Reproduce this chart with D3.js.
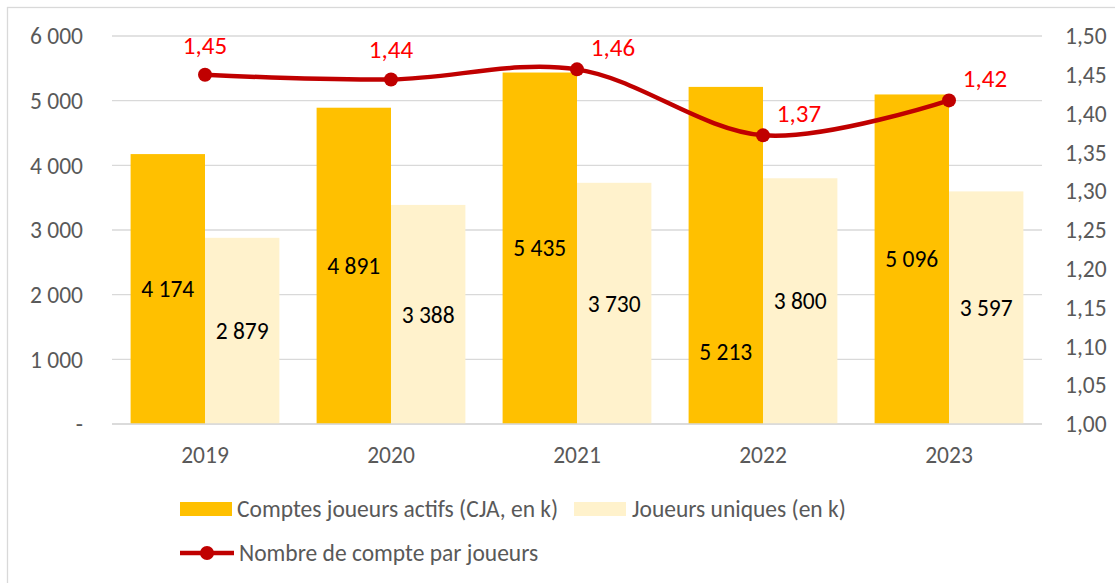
<!DOCTYPE html>
<html lang="fr">
<head>
<meta charset="UTF-8">
<title>Comptes joueurs</title>
<style>
  body { margin: 0; background: #fff; }
  svg text { font-family: Carlito, Calibri, Lato, sans-serif; }
</style>
<script src="https://d3js.org/d3.v7.min.js"></script>
</head>
<body>
<svg id="chart" width="1115" height="583"></svg>
<script>
// data
var years = ["2019", "2020", "2021", "2022", "2023"];
var cja = [4174, 4891, 5435, 5213, 5096];        // Comptes joueurs actifs (en k)
var uniques = [2879, 3388, 3730, 3800, 3597];    // Joueurs uniques (en k)
var ratio = [1.45, 1.444, 1.457, 1.372, 1.417];  // Nombre de compte par joueurs
var leftTicks = [0, 1000, 2000, 3000, 4000, 5000, 6000];
var rightTicks = [1.00, 1.05, 1.10, 1.15, 1.20, 1.25, 1.30, 1.35, 1.40, 1.45, 1.50];

var svg = d3.select("#chart");
var plotLeft = 112, plotRight = 1042, plotTop = 36, plotBottom = 424;
var fontSize = 23.5;

var fmtThousands = function (v) {
    if (v === 0) return "-";
    return d3.format(",")(v).replace(/,/g, " ");
};
var fmtComma = function (v) { return d3.format(".2f")(v).replace(".", ","); };

// chart border (Excel chart area)
svg.append("rect")
    .attr("x", 7.5).attr("y", 7.5)
    .attr("width", 1130).attr("height", 600)
    .attr("fill", "none").attr("stroke", "#d9d9d9").attr("stroke-width", 1.3);

var x = d3.scaleBand().domain(years).range([plotLeft, plotRight]);
var y = d3.scaleLinear().domain([0, 6000]).range([plotBottom, plotTop]);
var y2 = d3.scaleLinear().domain([1, 1.5]).range([plotBottom, plotTop]);

// gridlines
svg.append("g").selectAll("line")
    .data(leftTicks)
    .enter().append("line")
    .attr("x1", plotLeft).attr("x2", plotRight)
    .attr("y1", function (d) { return y(d); })
    .attr("y2", function (d) { return y(d); })
    .attr("stroke", "#d9d9d9").attr("stroke-width", 1.3);

// left axis labels
svg.append("g").selectAll("text")
    .data(leftTicks)
    .enter().append("text")
    .attr("x", 83)
    .attr("y", function (d) { return y(d); })
    .attr("dy", "0.35em")
    .attr("text-anchor", "end")
    .attr("font-size", fontSize)
    .attr("fill", "#595959")
    .text(fmtThousands);

// right axis labels
svg.append("g").selectAll("text")
    .data(rightTicks)
    .enter().append("text")
    .attr("x", 1065)
    .attr("y", function (d) { return y2(d); })
    .attr("dy", "0.35em")
    .attr("text-anchor", "start")
    .attr("font-size", fontSize)
    .attr("fill", "#595959")
    .text(fmtComma);

// year labels
svg.append("g").selectAll("text")
    .data(years)
    .enter().append("text")
    .attr("x", function (d) { return x(d) + x.bandwidth() / 2; })
    .attr("y", 455)
    .attr("dy", "0.35em")
    .attr("text-anchor", "middle")
    .attr("font-size", fontSize)
    .attr("fill", "#595959")
    .text(function (d) { return d; });

// bars: gap width 50% like Excel
var barW = x.bandwidth() / 2.5;
var inner = x.bandwidth() * 0.1;

var series = [
    { name: "cja", values: cja, color: "#ffc000", offset: 0 },
    { name: "uniques", values: uniques, color: "#fff2cc", offset: 1 }
];

series.forEach(function (s) {
    svg.append("g").selectAll("rect")
        .data(s.values)
        .enter().append("rect")
        .attr("x", function (d, i) { return x(years[i]) + inner + s.offset * barW; })
        .attr("y", function (d) { return y(d); })
        .attr("width", barW)
        .attr("height", function (d) { return plotBottom - y(d); })
        .attr("fill", s.color);
});

// baseline
svg.append("line")
    .attr("x1", plotLeft).attr("x2", plotRight)
    .attr("y1", plotBottom).attr("y2", plotBottom)
    .attr("stroke", "#d9d9d9").attr("stroke-width", 1.5);

// bar labels (2022 CJA label was moved down in the original)
series.forEach(function (s) {
    svg.append("g").selectAll("text")
        .data(s.values)
        .enter().append("text")
        .attr("x", function (d, i) { return x(years[i]) + inner + s.offset * barW + barW / 2; })
        .attr("y", function (d, i) {
            var mid = (y(d) + plotBottom) / 2;
            if (s.name === "cja" && years[i] === "2022") mid = y(1110);
            return mid;
        })
        .attr("dy", "0.35em")
        .attr("text-anchor", "middle")
        .attr("font-size", fontSize)
        .attr("fill", "#000")
        .text(function (d) { return fmtThousands(d); });
});

// ratio line
var cx = function (i) { return x(years[i]) + x.bandwidth() / 2; };
var line = d3.line()
    .x(function (d, i) { return cx(i); })
    .y(function (d) { return y2(d); })
    .curve(d3.curveCardinal.tension(0));

svg.append("path")
    .datum(ratio)
    .attr("d", line)
    .attr("fill", "none")
    .attr("stroke", "#c00000")
    .attr("stroke-width", 4.5);

svg.append("g").selectAll("circle")
    .data(ratio)
    .enter().append("circle")
    .attr("cx", function (d, i) { return cx(i); })
    .attr("cy", function (d) { return y2(d); })
    .attr("r", 7)
    .attr("fill", "#c00000");

svg.append("g").selectAll("text")
    .data(ratio)
    .enter().append("text")
    .attr("x", function (d, i) { return i < 2 ? cx(i) : cx(i) + 36; })
    .attr("y", function (d, i) { return i < 2 ? y2(d) - 30 : y2(d) - 22; })
    .attr("dy", "0.35em")
    .attr("text-anchor", "middle")
    .attr("font-size", 25)
    .attr("fill", "#ff0000")
    .text(fmtComma);

// legend
var legend = svg.append("g").attr("font-size", fontSize).attr("fill", "#595959");
legend.append("rect").attr("x", 180).attr("y", 502).attr("width", 52).attr("height", 14).attr("fill", "#ffc000");
legend.append("text").attr("x", 237).attr("y", 509).attr("dy", "0.35em").attr("fill", "#595959")
    .text("Comptes joueurs actifs (CJA, en k)");
legend.append("rect").attr("x", 574).attr("y", 502).attr("width", 52).attr("height", 14).attr("fill", "#fff2cc");
legend.append("text").attr("x", 632).attr("y", 509).attr("dy", "0.35em").attr("fill", "#595959")
    .text("Joueurs uniques (en k)");
legend.append("line").attr("x1", 180).attr("x2", 234).attr("y1", 553).attr("y2", 553)
    .attr("stroke", "#c00000").attr("stroke-width", 4.5);
legend.append("circle").attr("cx", 207).attr("cy", 553).attr("r", 7).attr("fill", "#c00000");
legend.append("text").attr("x", 239).attr("y", 553).attr("dy", "0.35em").attr("fill", "#595959")
    .text("Nombre de compte par joueurs");
</script>
</body>
</html>
